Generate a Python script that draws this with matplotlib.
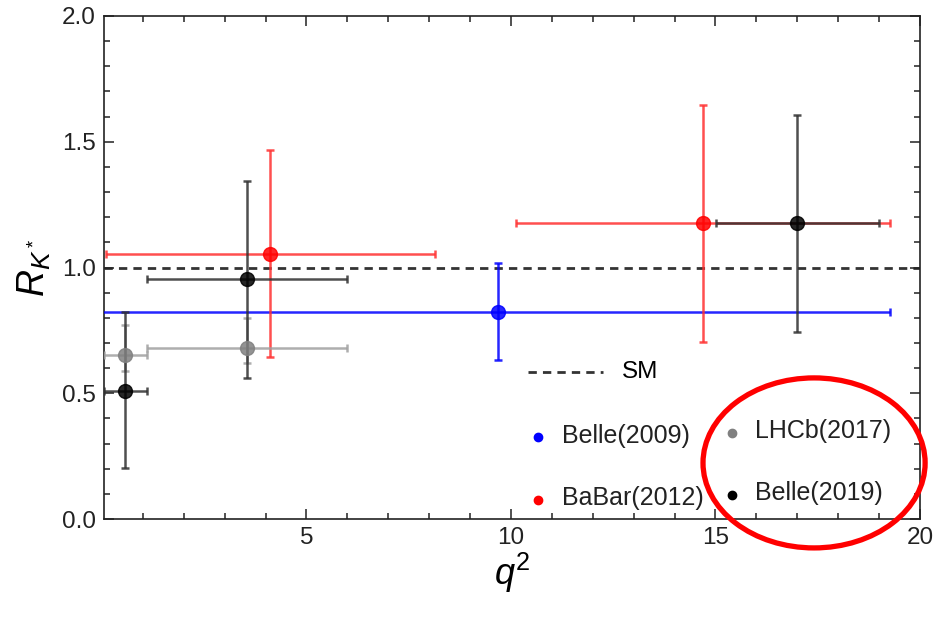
import numpy as np
import matplotlib
matplotlib.use("Agg")
import matplotlib.pyplot as plt
from matplotlib.patches import Ellipse
from matplotlib.ticker import MultipleLocator

# R_K* measurements in q^2 bins
# each entry: q2 centre, q2 low, q2 high, R, R low, R high
belle09 = dict(x=[9.68], xlo=[0.0], xhi=[19.27],
               y=[0.825], ylo=[0.633], yhi=[1.016])
babar12 = dict(x=[4.11, 14.69], xlo=[0.10, 10.12], xhi=[8.14, 19.27],
               y=[1.055, 1.175], ylo=[0.644, 0.704], yhi=[1.467, 1.646])
lhcb17 = dict(x=[0.56, 3.55], xlo=[0.045, 1.10], xhi=[1.10, 5.98],
              y=[0.652, 0.680], ylo=[0.590, 0.620], yhi=[0.771, 0.800])
belle19 = dict(x=[0.56, 3.55, 16.99], xlo=[0.045, 1.10, 15.01], xhi=[1.10, 5.98, 19.00],
               y=[0.509, 0.954, 1.175], ylo=[0.203, 0.561, 0.744], yhi=[0.823, 1.344, 1.606])
sm_value = 1.0

series = [
    ("Belle(2009)", belle09, "#0000ff", "#0000ff"),
    ("BaBar(2012)", babar12, "#ff0000", "#ff3030"),
    ("LHCb(2017)", lhcb17, "#808080", "#a0a0a0"),
    ("Belle(2019)", belle19, "#000000", "#303030"),
]

plt.rcParams["font.family"] = ["Liberation Sans", "DejaVu Sans"]
plt.rcParams["mathtext.fontset"] = "custom"
plt.rcParams["mathtext.rm"] = "Liberation Sans"
plt.rcParams["mathtext.it"] = "Liberation Sans:italic"

fig = plt.figure(figsize=(9.33, 6.2), dpi=100)
ax = fig.add_axes([104/933, 101/620, 816/933, 503/620])

ax.axhline(sm_value, color="#333333", lw=2.0, ls=(0, (3, 2.2)), zorder=1)

for name, d, col, ecol in series:
    x = np.array(d["x"]); y = np.array(d["y"])
    xerr = [x - np.array(d["xlo"]), np.array(d["xhi"]) - x]
    yerr = [y - np.array(d["ylo"]), np.array(d["yhi"]) - y]
    ax.errorbar(x, y, xerr=xerr, yerr=yerr, fmt="o", color=col, ecolor=ecol,
                elinewidth=1.8, capsize=3, capthick=1.8, markersize=10,
                alpha=0.85, zorder=3)

ax.set_xlim(0.05, 20)
ax.set_ylim(0, 2)
ax.set_xticks([5, 10, 15, 20])
ax.set_yticks([0.0, 0.5, 1.0, 1.5, 2.0])
ax.set_yticklabels(["0.0", "0.5", "1.0", "1.5", "2.0"])
ax.xaxis.set_minor_locator(MultipleLocator(1))
ax.yaxis.set_minor_locator(MultipleLocator(0.1))
ax.tick_params(which="both", direction="in", top=True, right=True,
               labelsize=17.5, colors="#222222", width=1.1)
ax.tick_params(which="major", length=7, pad=6)
ax.tick_params(which="minor", length=4)
for s in ax.spines.values():
    s.set_linewidth(1.2)
    s.set_color("#222222")

ax.set_xlabel(r"$q^2$", fontsize=26, labelpad=1)
ax.set_ylabel(r"$R_{K^*}$", fontsize=27, labelpad=6)

# legend drawn inside the frame
tr = ax.transAxes
ax.plot([0.520, 0.611], [0.293, 0.293], transform=tr, color="#333333",
        lw=2.0, ls=(0, (3, 2.2)))
ax.text(0.635, 0.293, "SM", transform=tr, fontsize=17.5, va="center")
legend_items = [
    ("Belle(2009)", "#0000ff", 0.532, 0.163),
    ("BaBar(2012)", "#ff0000", 0.532, 0.038),
    ("LHCb(2017)", "#808080", 0.769, 0.171),
    ("Belle(2019)", "#000000", 0.769, 0.048),
]
for label, col, lx, ly in legend_items:
    ax.plot([lx], [ly], "o", transform=tr, color=col, markersize=6)
    ax.text(lx + 0.029, ly + 0.003, label, transform=tr, fontsize=18,
            va="center", color="#222222")

# highlight ring round the newer results
ring = Ellipse((17.41, 0.223), 5.43, 0.676, fill=False, edgecolor="#ff0000",
               lw=3.8, clip_on=False, zorder=5)
ax.add_patch(ring)

fig.savefig("out.png", dpi=100, facecolor="white")
